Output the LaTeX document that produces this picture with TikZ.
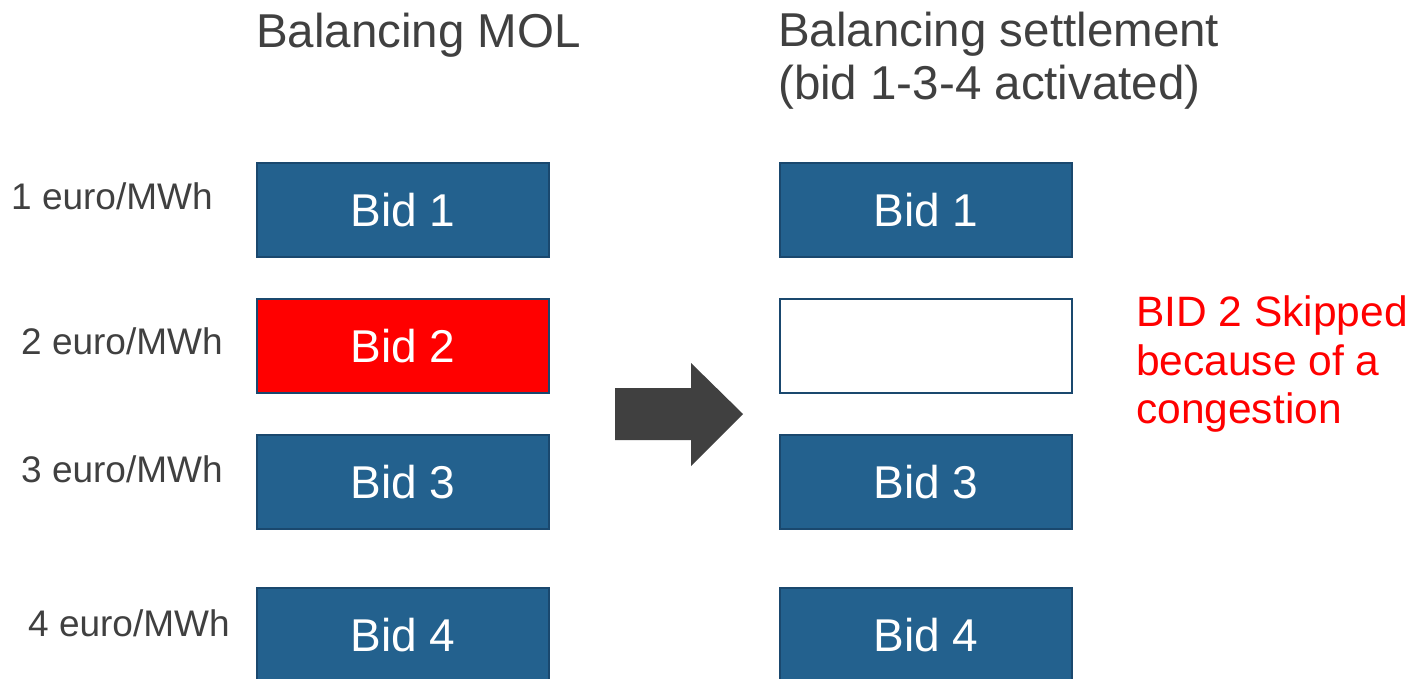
\documentclass[tikz,border=0pt]{standalone}
\usepackage{fontspec}
\setmainfont{Liberation Sans}
\definecolor{bidblue}{RGB}{35,97,142}
\definecolor{bidedge}{RGB}{26,72,110}
\definecolor{txtgray}{RGB}{64,64,64}
\definecolor{arrowgray}{RGB}{64,64,64}
\definecolor{skipred}{RGB}{255,0,0}
\tikzset{
  bidbox/.style={draw=bidedge, line width=1.5pt, fill=bidblue, text=white,
    minimum width=292pt, minimum height=94pt, inner sep=0pt,
    font=\fontsize{46}{50}\selectfont},
  redbox/.style={bidbox, fill=skipred},
  emptybox/.style={bidbox, fill=white, line width=2.5pt},
  title/.style={anchor=base west, inner sep=0pt, text=txtgray,
    font=\fontsize{47.5}{52}\selectfont},
  pricelabel/.style={anchor=base west, inner sep=0pt, text=txtgray,
    font=\fontsize{37}{40}\selectfont},
  skiptext/.style={anchor=base west, inner sep=0pt, text=skipred,
    font=\fontsize{42.5}{46}\selectfont}
}
\begin{document}
\begin{tikzpicture}[x=1pt,y=-1pt]
\clip (0,0) rectangle (1415,679);
\fill[white] (0,0) rectangle (1415,679);
% titles
\node[title] (t1) at (256,48) {Balancing MOL};
\node[title] (t2a) at (778,47) {Balancing settlement};
\node[title] (t2b) at (778,100) {(bid 1-3-4 activated)};
% price labels
\node[pricelabel] (p1) at (11,209) {1 euro/MWh};
\node[pricelabel] (p2) at (21,354) {2 euro/MWh};
\node[pricelabel] (p3) at (21,482) {3 euro/MWh};
\node[pricelabel] (p4) at (28,636) {4 euro/MWh};
% left column
\node[bidbox] (l1) at (403,210) {Bid 1};
\node[redbox] (l2) at (403,346) {Bid 2};
\node[bidbox] (l3) at (403,482) {Bid 3};
\node[bidbox] (l4) at (403,635) {Bid 4};
% right column
\node[bidbox] (r1) at (926,210) {Bid 1};
\node[emptybox] (r2) at (926,346) {};
\node[bidbox] (r3) at (926,482) {Bid 3};
\node[bidbox] (r4) at (926,635) {Bid 4};
% block arrow
\fill[arrowgray] (615,388) -- (691,388) -- (691,363) -- (743,414)
  -- (691,466) -- (691,440) -- (615,440) -- cycle;
% skipped text
\node[skiptext] (s1) at (1136,326) {BID 2 Skipped};
\node[skiptext] (s2) at (1136,375) {because of a};
\node[skiptext] (s3) at (1136,423) {congestion};
\end{tikzpicture}
\end{document}
